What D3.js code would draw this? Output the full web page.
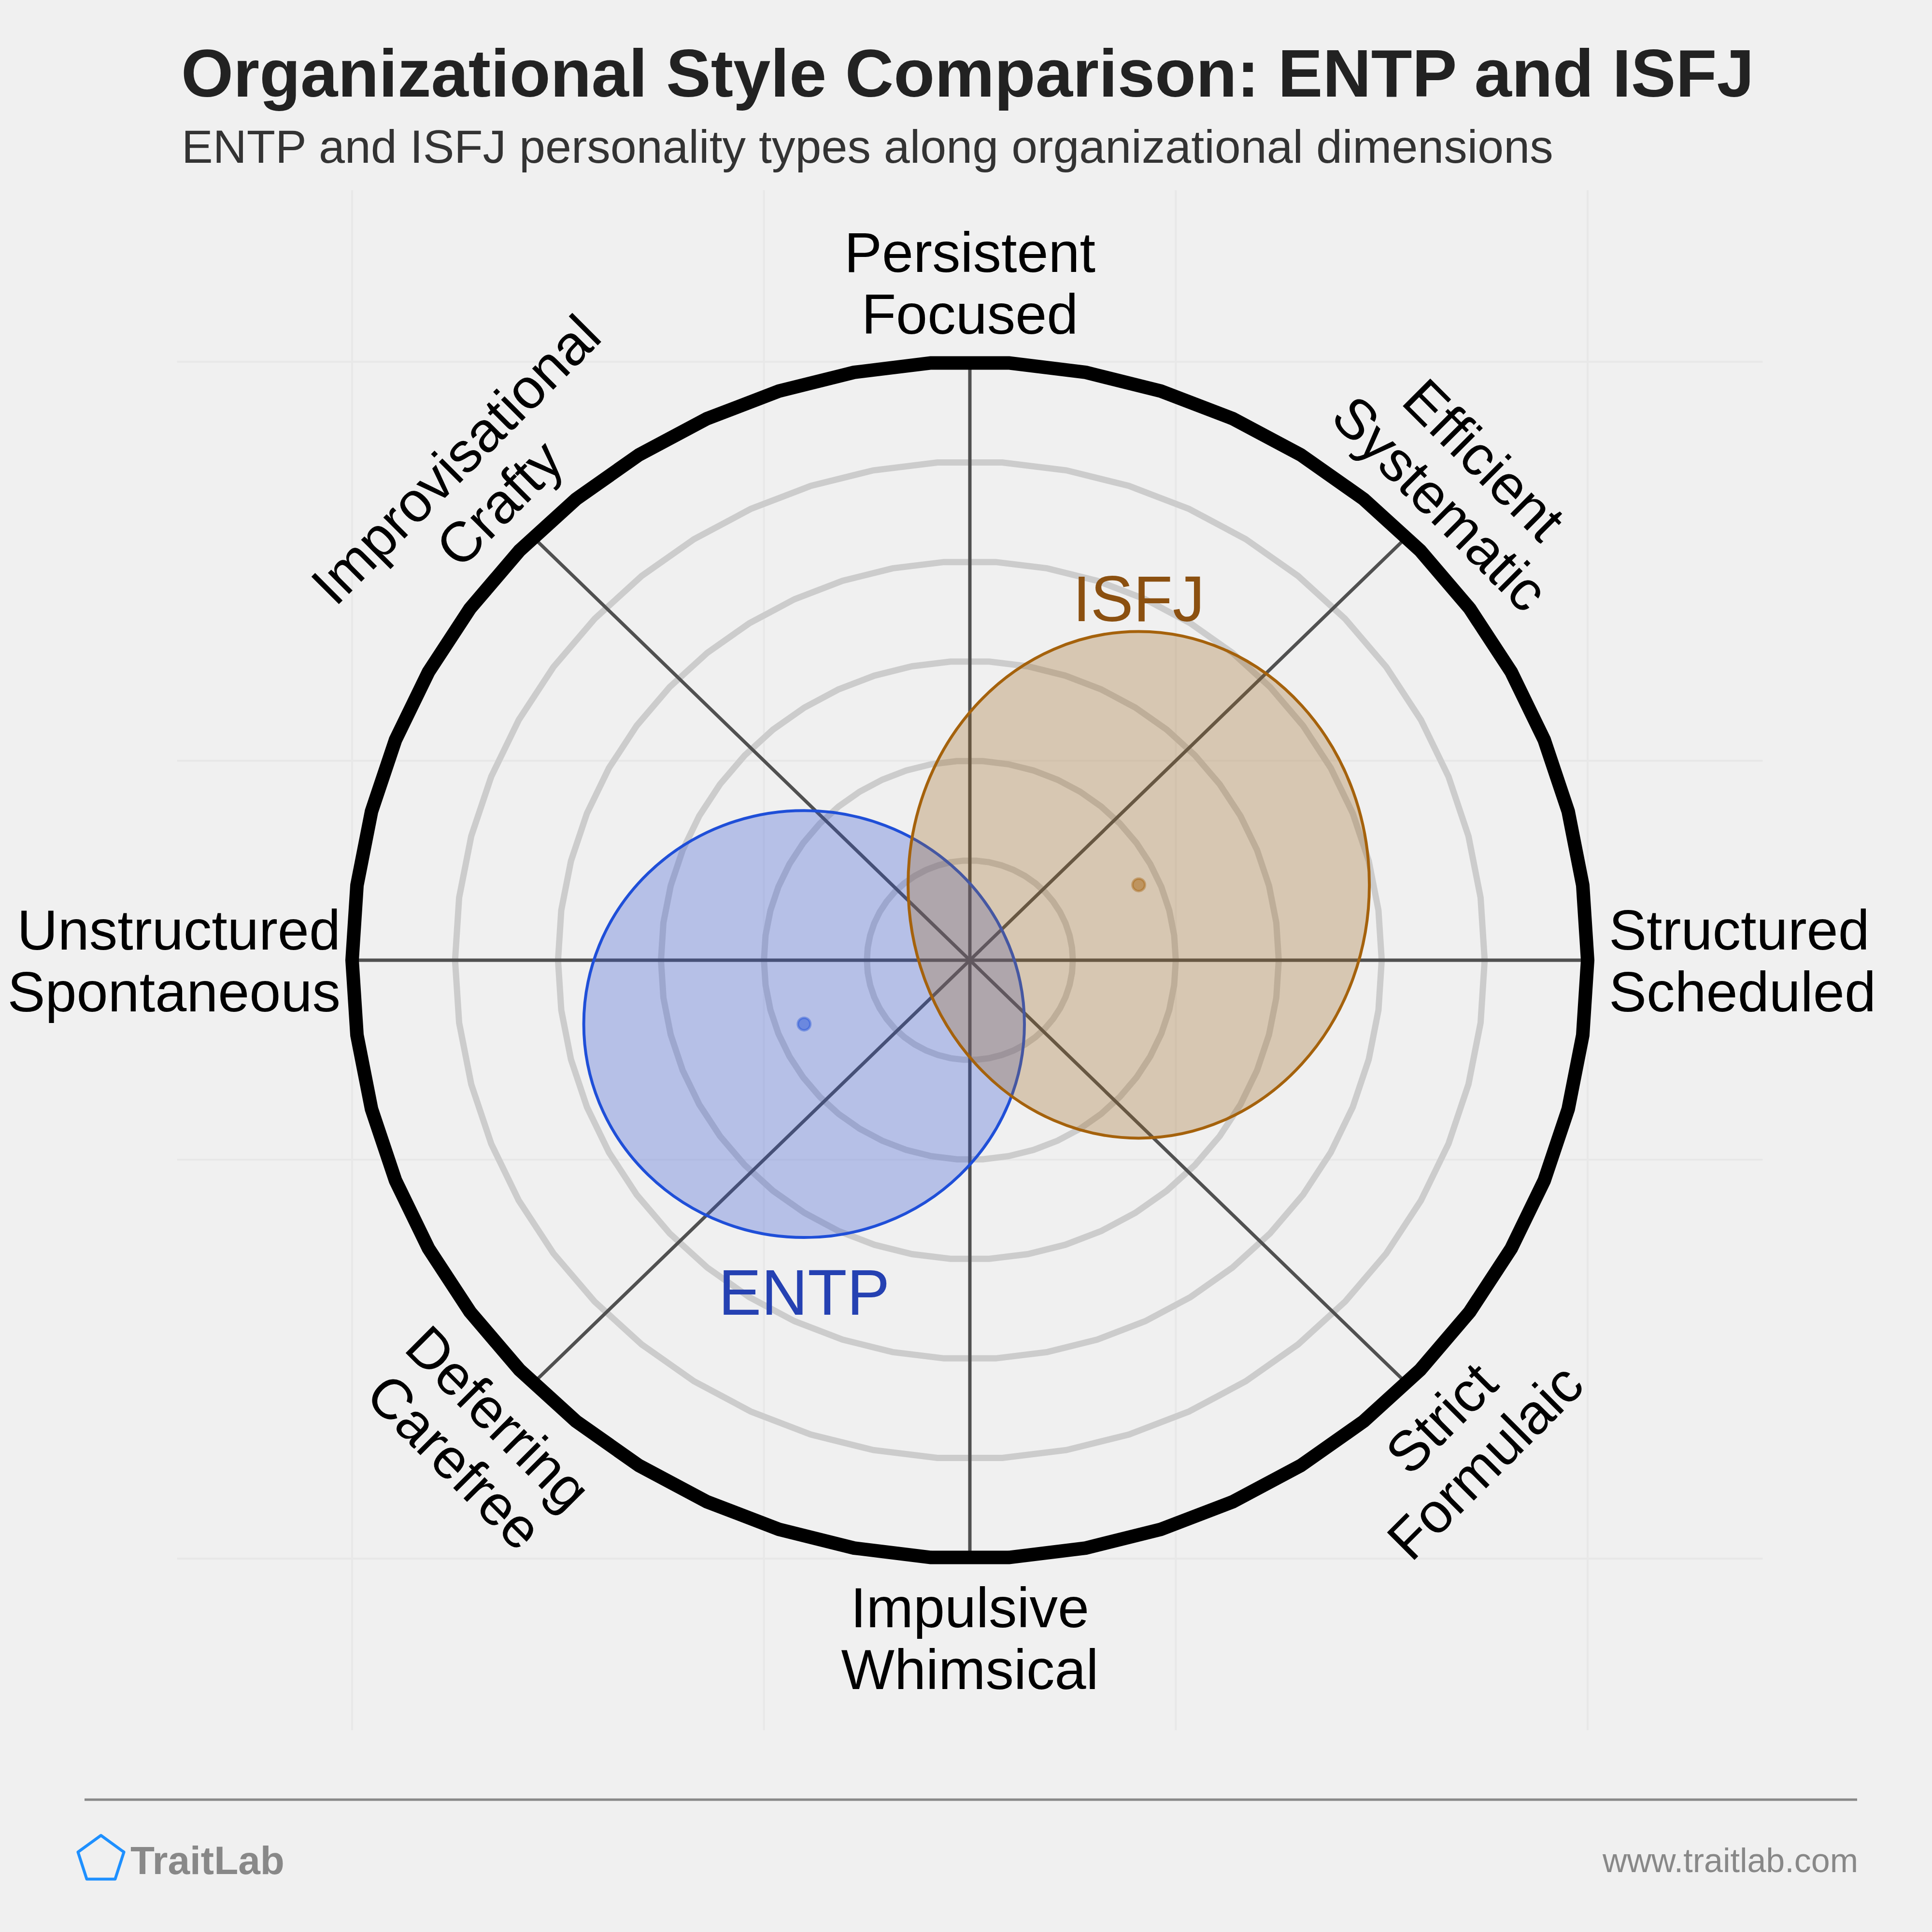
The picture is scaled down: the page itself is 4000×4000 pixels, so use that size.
<!DOCTYPE html>
<html>
<head>
<meta charset="utf-8">
<script src="https://cdn.jsdelivr.net/npm/d3@7"></script>
<style>
  body { margin: 0; background: #f0f0f0; }
  svg { display: block; }
  text { font-family: "Liberation Sans", Arial, sans-serif; }
</style>
</head>
<body>
<svg id="chart" width="4000" height="4000"></svg>
<script>
// axis labels, counter-clockwise from the right, every 45 degrees
const axisLabels = [
  ["Structured", "Scheduled"],
  ["Efficient", "Systematic"],
  ["Persistent", "Focused"],
  ["Improvisational", "Crafty"],
  ["Unstructured", "Spontaneous"],
  ["Deferring", "Carefree"],
  ["Impulsive", "Whimsical"],
  ["Strict", "Formulaic"]
];
const axisAngles = [0, 45, 90, 135, 180, 225, 270, 315];

const ringValues = [0.5, 1, 1.5, 2, 2.5];
const outerRing = 3;
const gridValues = [-3, -1, 1, 3];

const typeNames = ["ENTP", "ISFJ"];
const typeX = [-0.805, 0.82];
const typeY = [-0.32, 0.378];
const typeRx = [1.07, 1.12];
const typeRy = [1.07, 1.27];
const typeStroke = ["#1f4fd8", "#a5620c"];
const typeFill = ["#3253d5", "#a06b25"];
const typeText = ["#2541b2", "#8b5010"];

const cx = 2008, cy = 1988;
const x = d3.scaleLinear().domain([-3, 3]).range([cx - 1279, cx + 1279]);
const y = d3.scaleLinear().domain([-3, 3]).range([cy + 1239, cy - 1239]);

const svg = d3.select("#chart");
svg.append("rect").attr("width", 4000).attr("height", 4000).attr("fill", "#f0f0f0");

// faint panel grid
const panel = svg.append("g");
gridValues.forEach(v => {
  panel.append("line")
    .attr("x1", x(v)).attr("x2", x(v))
    .attr("y1", y(3.86)).attr("y2", y(-3.86))
    .attr("stroke", "#e8e8e8").attr("stroke-width", 4);
  panel.append("line")
    .attr("x1", x(-3.85)).attr("x2", x(3.85))
    .attr("y1", y(v)).attr("y2", y(v))
    .attr("stroke", "#e8e8e8").attr("stroke-width", 4);
});

const segs = d3.range(50).map(i => i * 2 * Math.PI / 50);
const ringLine = r => d3.line()
  .x(a => x(r * Math.cos(a)))
  .y(a => y(r * Math.sin(a)))
  .curve(d3.curveLinearClosed)(segs);

const g = svg.append("g");
ringValues.forEach(r => {
  g.append("path").attr("d", ringLine(r))
    .attr("fill", "none").attr("stroke", "#cccccc").attr("stroke-width", 13);
});

axisAngles.forEach(a => {
  const t = a * Math.PI / 180;
  g.append("line")
    .attr("x1", x(0)).attr("y1", y(0))
    .attr("x2", x(outerRing * Math.cos(t))).attr("y2", y(outerRing * Math.sin(t)))
    .attr("stroke", "#505050").attr("stroke-width", 7);
});

g.append("path").attr("d", ringLine(outerRing))
  .attr("fill", "none").attr("stroke", "#000").attr("stroke-width", 28)
  .attr("stroke-linejoin", "round");

// personality ellipses
typeNames.forEach((name, i) => {
  g.append("ellipse")
    .attr("cx", x(typeX[i])).attr("cy", y(typeY[i]))
    .attr("rx", x(typeRx[i]) - x(0)).attr("ry", y(0) - y(typeRy[i]))
    .attr("fill", typeFill[i]).attr("fill-opacity", 0.3)
    .attr("stroke", typeStroke[i]).attr("stroke-width", 6);
});
typeNames.forEach((name, i) => {
  g.append("circle")
    .attr("cx", x(typeX[i])).attr("cy", y(typeY[i])).attr("r", 13)
    .attr("fill", typeStroke[i]).attr("fill-opacity", 0.5)
    .attr("stroke", typeStroke[i]).attr("stroke-opacity", 0.4).attr("stroke-width", 5);
  const above = typeY[i] > 0;
  g.append("text")
    .attr("x", x(typeX[i]))
    .attr("y", above ? y(typeY[i] + typeRy[i]) - 21 : y(typeY[i] - typeRy[i]) + 160)
    .attr("text-anchor", "middle")
    .attr("font-size", 133)
    .attr("fill", typeText[i])
    .text(name);
});

// axis labels
const fs = 117, lh = 128, capH = 84;
axisAngles.forEach((a, i) => {
  const t = a * Math.PI / 180;
  const c = Math.cos(t), s = Math.sin(t);
  let pad = 58;
  if (a === 0) pad = 44;
  if (a === 180) pad = 24;
  const px = x(outerRing * c) + pad * c;
  const py = y(outerRing * s) - pad * s;
  const lines = axisLabels[i];
  let rot = 0, anchor = "middle", base;
  if (a === 0 || a === 180) {
    anchor = a === 0 ? "start" : "end";
    base = -(capH + lh) / 2 + capH;
  } else if (s > 0) {
    rot = 90 - a;
    base = -(lines.length - 1) * lh;
  } else {
    rot = 270 - a;
    base = capH;
  }
  const lab = svg.append("text")
    .attr("transform", `translate(${px},${py}) rotate(${rot})`)
    .attr("text-anchor", anchor)
    .attr("font-size", fs)
    .attr("fill", "#000");
  lines.forEach((l, j) => {
    lab.append("tspan").attr("x", 0).attr("y", base + j * lh).text(l);
  });
});

// titles
svg.append("text").attr("x", 375).attr("y", 200)
  .attr("font-size", 139).attr("font-weight", "bold").attr("fill", "#222")
  .text("Organizational Style Comparison: ENTP and ISFJ");
svg.append("text").attr("x", 376).attr("y", 337)
  .attr("font-size", 97).attr("fill", "#333")
  .text("ENTP and ISFJ personality types along organizational dimensions");

// footer
svg.append("line").attr("x1", 175).attr("x2", 3845).attr("y1", 3726).attr("y2", 3726)
  .attr("stroke", "#888").attr("stroke-width", 5);
const pent = d3.range(5).map(k => {
  const t = -Math.PI / 2 + k * 2 * Math.PI / 5;
  return [209 + 50 * Math.cos(t), 3850 + 50 * Math.sin(t)];
});
svg.append("polygon").attr("points", pent.map(p => p.join(",")).join(" "))
  .attr("fill", "none").attr("stroke", "#1e90ff").attr("stroke-width", 6)
  .attr("stroke-linejoin", "round");
svg.append("text").attr("x", 270).attr("y", 3880)
  .attr("font-size", 82).attr("font-weight", "bold").attr("fill", "#888")
  .text("TraitLab");
svg.append("text").attr("x", 3847).attr("y", 3876)
  .attr("text-anchor", "end").attr("font-size", 70).attr("fill", "#888")
  .text("www.traitlab.com");
</script>
</body>
</html>
